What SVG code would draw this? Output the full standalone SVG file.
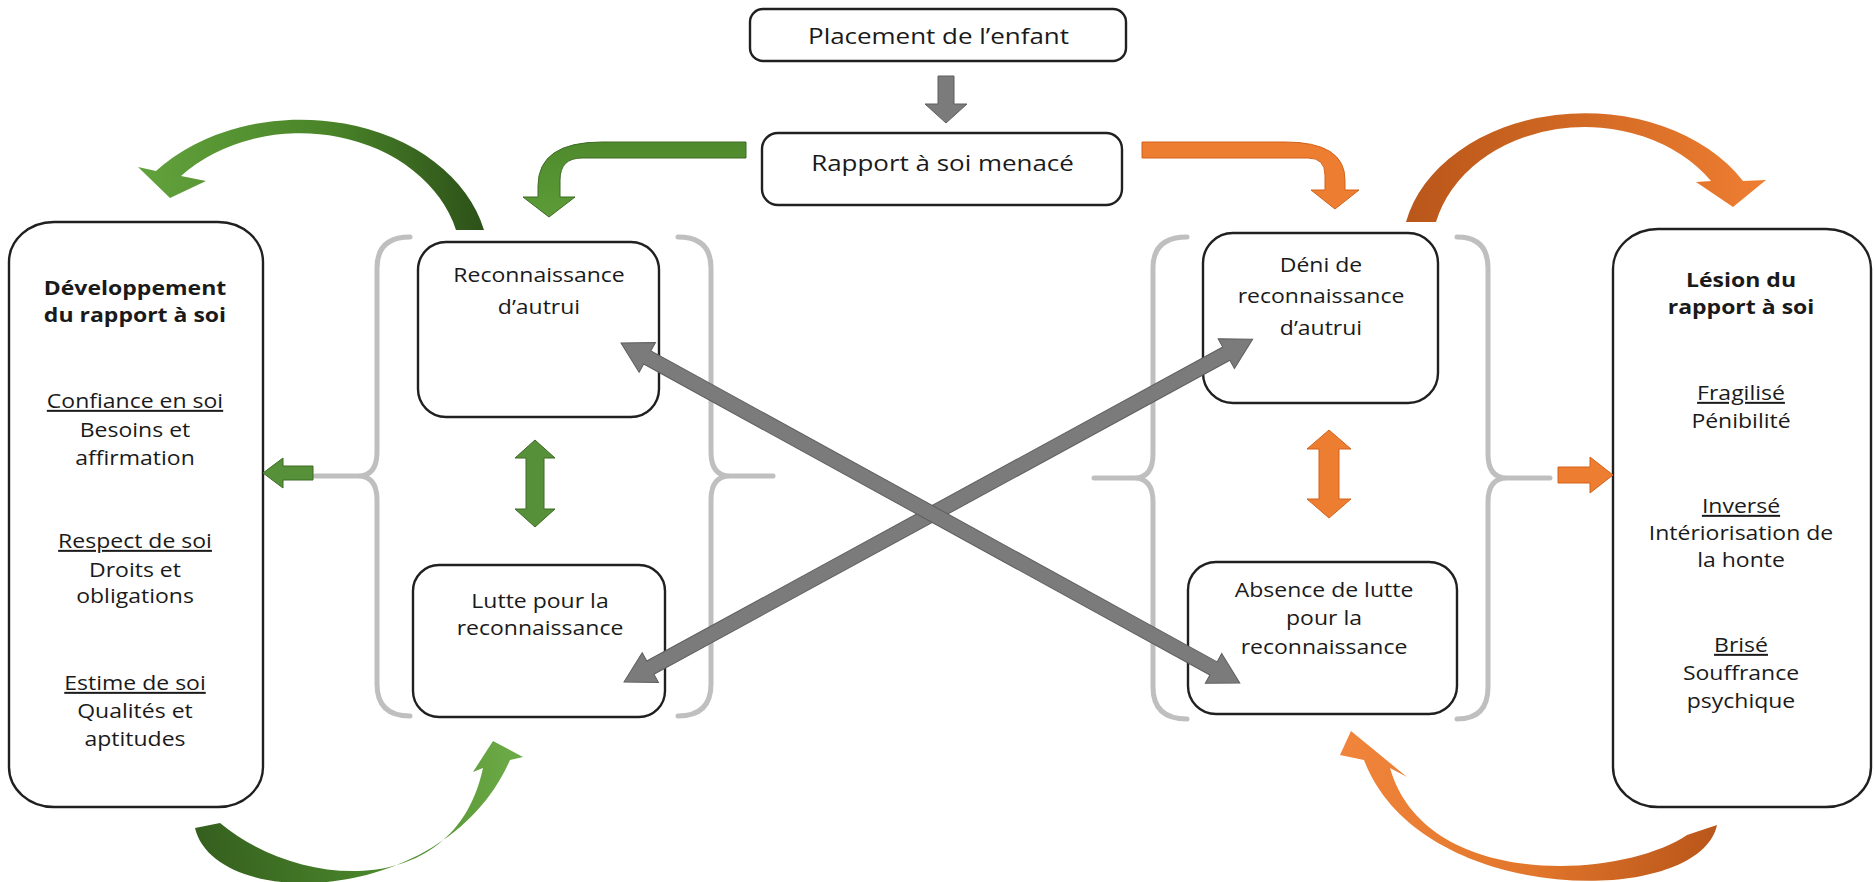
<svg xmlns="http://www.w3.org/2000/svg" width="1875" height="882" viewBox="0 0 1875 882">
<defs>
<style>
.box{fill:#ffffff;stroke:#202020;stroke-width:2.4}
.brace{fill:none;stroke:#bfbfbf;stroke-width:5;stroke-linecap:round;stroke-linejoin:round}
.t{font-family:"Open Sans","Liberation Sans",sans-serif;font-size:20px;fill:#1a1a1a;text-anchor:middle}
.big{font-size:22px}
.b{font-weight:bold}
.u{text-decoration:underline}
.gray{fill:#7b7b7b;stroke:#5e5e5e;stroke-width:1}
.green{fill:#56913a;stroke:#3e6b25;stroke-width:1}
.orange{fill:#ed7d31;stroke:#d2631b;stroke-width:1}
</style>
<linearGradient id="gTL" gradientUnits="userSpaceOnUse" x1="484" y1="150" x2="140" y2="180">
<stop offset="0" stop-color="#2c4f18"/><stop offset="0.45" stop-color="#4a8529"/><stop offset="1" stop-color="#62a23c"/>
</linearGradient>
<linearGradient id="gBL" gradientUnits="userSpaceOnUse" x1="195" y1="820" x2="530" y2="760">
<stop offset="0" stop-color="#355f1e"/><stop offset="0.5" stop-color="#4a862b"/><stop offset="0.75" stop-color="#5f9c3c"/><stop offset="1" stop-color="#6dad47"/>
</linearGradient>
<linearGradient id="gBent" gradientUnits="userSpaceOnUse" x1="0" y1="142" x2="0" y2="217">
<stop offset="0" stop-color="#4f8a2c"/><stop offset="1" stop-color="#5c9c38"/>
</linearGradient>
<linearGradient id="oTR" gradientUnits="userSpaceOnUse" x1="1406" y1="200" x2="1766" y2="200">
<stop offset="0" stop-color="#b9561a"/><stop offset="0.5" stop-color="#d36a24"/><stop offset="1" stop-color="#ee7e32"/>
</linearGradient>
<linearGradient id="oBR" gradientUnits="userSpaceOnUse" x1="1717" y1="830" x2="1345" y2="750">
<stop offset="0" stop-color="#b9561a"/><stop offset="0.45" stop-color="#e2762b"/><stop offset="1" stop-color="#f0843a"/>
</linearGradient>
</defs>
<rect x="0" y="0" width="1875" height="882" fill="#ffffff"/>

<g id="braces">
<path class="brace" d="M410,237 Q377,237 377,268 L377,452 Q377,476 358,476 L315,476 M358,476 Q377,476 377,500 L377,684 Q377,716 410,716"/>
<path class="brace" d="M678,237 Q711,237 711,268 L711,452 Q711,476 730,476 L773,476 M730,476 Q711,476 711,500 L711,684 Q711,716 678,716"/>
<path class="brace" d="M1187,237 Q1153,237 1153,268 L1153,454 Q1153,478 1134,478 L1094,478 M1134,478 Q1153,478 1153,502 L1153,687 Q1153,719 1187,719"/>
<path class="brace" d="M1457,237 Q1488,237 1488,268 L1488,454 Q1488,478 1507,478 L1550,478 M1507,478 Q1488,478 1488,502 L1488,687 Q1488,719 1457,719"/>
</g>

<g id="placement">
<rect class="box" x="750" y="9" width="376" height="52" rx="13"/>
<g transform="translate(938.5,0) scale(1.18,1)"><text class="t big" x="0" y="44">Placement de l’enfant</text></g>
</g>

<g id="rapport">
<rect class="box" x="762" y="133" width="360" height="72" rx="16"/>
<g transform="translate(942.5,0) scale(1.18,1)"><text class="t big" x="0" y="171">Rapport à soi menacé</text></g>
</g>

<g id="developpement">
<rect class="box" x="9" y="222" width="254" height="585" rx="45" ry="40"/>
<g transform="translate(135,0) scale(1.15,1)">
<text class="t b" x="0" y="295">Développement</text>
<text class="t b" x="0" y="322">du rapport à soi</text>
<text class="t u" x="0" y="408">Confiance en soi</text>
<text class="t" x="0" y="437">Besoins et</text>
<text class="t" x="0" y="465">affirmation</text>
<text class="t u" x="0" y="548">Respect de soi</text>
<text class="t" x="0" y="577">Droits et</text>
<text class="t" x="0" y="603">obligations</text>
<text class="t u" x="0" y="690">Estime de soi</text>
<text class="t" x="0" y="718">Qualités et</text>
<text class="t" x="0" y="746">aptitudes</text>
</g>
</g>

<g id="reconnaissance">
<rect class="box" x="418" y="242" width="241" height="175" rx="28"/>
<g transform="translate(539,0) scale(1.15,1)">
<text class="t" x="0" y="282">Reconnaissance</text>
<text class="t" x="0" y="314">d’autrui</text>
</g>
</g>

<g id="lutte">
<rect class="box" x="413" y="565" width="252" height="152" rx="26"/>
<g transform="translate(540,0) scale(1.15,1)">
<text class="t" x="0" y="608">Lutte pour la</text>
<text class="t" x="0" y="635">reconnaissance</text>
</g>
</g>

<g id="deni">
<rect class="box" x="1203" y="233" width="235" height="170" rx="30"/>
<g transform="translate(1321,0) scale(1.15,1)">
<text class="t" x="0" y="272">Déni de</text>
<text class="t" x="0" y="303">reconnaissance</text>
<text class="t" x="0" y="335">d’autrui</text>
</g>
</g>

<g id="absence">
<rect class="box" x="1188" y="562" width="269" height="152" rx="28"/>
<g transform="translate(1324,0) scale(1.15,1)">
<text class="t" x="0" y="597">Absence de lutte</text>
<text class="t" x="0" y="625">pour la</text>
<text class="t" x="0" y="654">reconnaissance</text>
</g>
</g>

<g id="lesion">
<rect class="box" x="1613" y="229" width="258" height="578" rx="45" ry="40"/>
<g transform="translate(1741,0) scale(1.15,1)">
<text class="t b" x="0" y="287">Lésion du</text>
<text class="t b" x="0" y="314">rapport à soi</text>
<text class="t u" x="0" y="400">Fragilisé</text>
<text class="t" x="0" y="428">Pénibilité</text>
<text class="t u" x="0" y="513">Inversé</text>
<text class="t" x="0" y="540">Intériorisation de</text>
<text class="t" x="0" y="567">la honte</text>
<text class="t u" x="0" y="652">Brisé</text>
<text class="t" x="0" y="680">Souffrance</text>
<text class="t" x="0" y="708">psychique</text>
</g>
</g>

<g id="connectors">
<polygon class="gray" points="938,76 954,76 954,104 967,104 946,123 925,104 938,104"/>
<path fill="url(#gBent)" stroke="#3e6b25" stroke-width="1" d="M746,142 L602,142 Q538,142 538,186 L538,197 L523,197 L549,217 L575,197 L560,197 L560,180 Q560,158 582,158 L746,158 Z"/>
<path class="orange" d="M1142,142 L1285,142 Q1345,142 1345,180 L1345,190 L1359,190 L1335,209 L1311,190 L1325,190 L1325,175 Q1325,158 1308,158 L1142,158 Z"/>
<path fill="url(#gTL)" d="M484,230 A188 142 0 0 0 156,171 L138,167 L170,198 L206,181 L181,176 A161 130 0 0 1 456,230 Z"/>
<path fill="url(#oTR)" d="M1406,222 A183 137 0 0 1 1743,181 L1766,180 L1733,207 L1696,182 L1711,181 A153 124 0 0 0 1436,222 Z"/>
<path fill="url(#gBL)" d="M195,828 C215,912 445,908 510,760 L523,757 L493,741 L473,772 L483,768 C455,900 300,890 220,823 Z"/>
<path fill="url(#oBR)" d="M1717,825 C1700,908 1420,908 1364,760 L1340,755 L1351,731 L1407,777 L1390,768 C1425,890 1620,880 1687,835 Z"/>
<polygon class="green" points="313,466 283,466 283,458 263,473 283,488 283,480 313,480"/>
<polygon class="orange" points="1558,467 1590,467 1590,457 1613,475 1590,493 1590,483 1558,483"/>
<polygon class="green" points="535,440 555,458 544,458 544,509 555,509 535,527 515,509 526,509 526,458 515,458"/>
<polygon class="orange" points="1329,430 1351,449 1339,449 1339,499 1351,499 1329,518 1307,499 1319,499 1319,449 1307,449"/>
<polygon class="gray" transform="translate(624,682) rotate(-28.6)" points="0,0 30,-17 30,-7.5 686,-7.5 686,-17 716,0 686,17 686,7.5 30,7.5 30,17"/>
<polygon class="gray" transform="translate(621,343) rotate(28.78)" points="0,0 30,-17 30,-7.5 676,-7.5 676,-17 706,0 676,17 676,7.5 30,7.5 30,17"/>
</g>
</svg>
